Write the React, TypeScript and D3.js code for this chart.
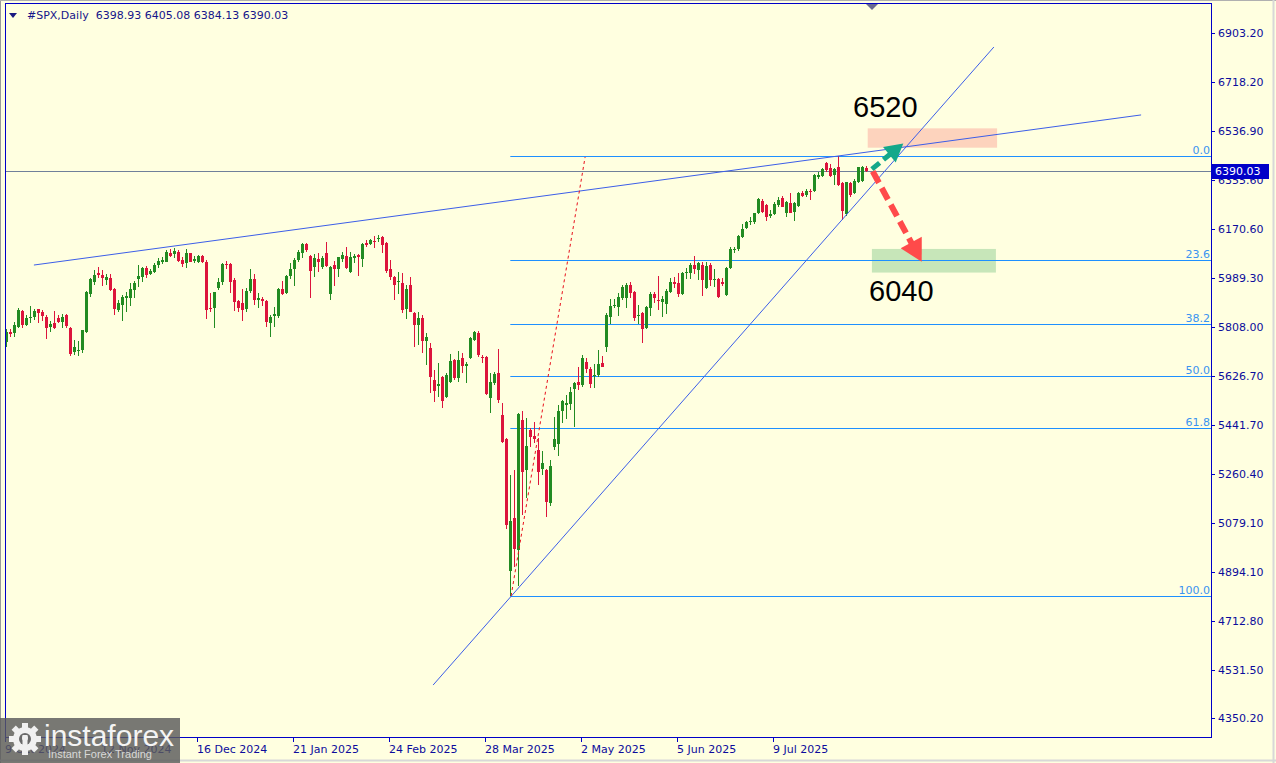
import React from "react";
import * as d3 from "d3";

// ---------- DATA ----------
const opens = [
  5750, 5788, 5786, 5809, 5867, 5815, 5840, 5846, 5873, 5862,
  5846, 5806, 5821, 5842, 5827, 5852, 5805, 5713, 5720, 5720,
  5788, 5930, 5976, 6007, 6001, 5982, 5991, 5949, 5871, 5889,
  5917, 5914, 5945, 5986, 5995, 6026, 6003, 6013, 6038, 6051,
  6051, 6082, 6078, 6088, 6057, 6044, 6082, 6053, 6048, 6073,
  6051, 5879, 5879, 5951, 5976, 6042, 6042, 5982, 5904, 5895,
  5874, 5943, 5985, 5908, 5912, 5904, 5823, 5850, 5848, 5949,
  5935, 5997, 6023, 6057, 6084, 6115, 6073, 6030, 6061, 6032,
  6083, 5929, 6039, 6022, 6061, 6072, 6013, 6063, 6075, 6059,
  6119, 6116, 6128, 6134, 6144, 6121, 6022, 5992, 5974, 5972,
  5874, 5964, 5861, 5815, 5842, 5755, 5728, 5610, 5589, 5622,
  5546, 5604, 5685, 5616, 5691, 5663, 5691, 5759, 5786, 5697,
  5697, 5544, 5600, 5637, 5480, 5390, 4900, 5096, 4977, 5461,
  5275, 5424, 5403, 5349, 5277, 5275, 5153, 5362, 5372, 5496,
  5518, 5519, 5575, 5604, 5591, 5676, 5652, 5625, 5629, 5672,
  5734, 5846, 5888, 5883, 5914, 5914, 5965, 5938, 5848, 5861,
  5802, 5877, 5930, 5908, 5902, 5893, 5939, 5974, 5972, 5929,
  6007, 6007, 6038, 6020, 6038, 5954, 6038, 5981, 5985, 5976,
  5927, 6026, 6093, 6097, 6141, 6177, 6198, 6200, 6231, 6278,
  6262, 6222, 6228, 6262, 6286, 6233, 6270, 6234, 6259, 6308,
  6299, 6315, 6315, 6367, 6371, 6419, 6398, 6373, 6404, 6342,
  6227, 6345, 6308, 6346, 6351, 6398.93,
];
const highs = [
  5800, 5799, 5825, 5877, 5871, 5852, 5886, 5874, 5874, 5871,
  5852, 5830, 5867, 5852, 5855, 5855, 5809, 5759, 5755, 5796,
  5941, 5991, 6020, 6030, 6020, 6003, 6003, 5951, 5908, 5926,
  5939, 5970, 5979, 6038, 6030, 6034, 6022, 6044, 6063, 6067,
  6094, 6098, 6100, 6094, 6069, 6098, 6082, 6073, 6075, 6075,
  6057, 5933, 5939, 5989, 6044, 6053, 6044, 5989, 5908, 5948,
  5951, 6022, 6003, 5935, 5920, 5908, 5852, 5883, 5951, 5979,
  6001, 6047, 6063, 6094, 6119, 6119, 6075, 6079, 6084, 6072,
  6123, 6035, 6053, 6069, 6085, 6104, 6085, 6079, 6079, 6119,
  6131, 6134, 6146, 6150, 6146, 6125, 6057, 5997, 6013, 6010,
  5964, 5995, 5864, 5864, 5852, 5784, 5749, 5647, 5672, 5625,
  5635, 5707, 5687, 5719, 5709, 5678, 5771, 5793, 5793, 5703,
  5699, 5635, 5641, 5724, 5523, 5393, 5256, 5275, 5486, 5496,
  5467, 5430, 5455, 5393, 5346, 5277, 5312, 5474, 5517, 5536,
  5554, 5583, 5604, 5660, 5703, 5691, 5657, 5670, 5722, 5699,
  5861, 5910, 5910, 5933, 5964, 5972, 5976, 5943, 5889, 5864,
  5886, 5939, 5939, 5997, 5923, 5948, 5989, 5992, 6007, 6013,
  6026, 6047, 6072, 6051, 6051, 6051, 6044, 6022, 5989, 5989,
  6032, 6104, 6106, 6150, 6191, 6203, 6216, 6233, 6286, 6283,
  6265, 6243, 6274, 6293, 6295, 6278, 6305, 6272, 6309, 6315,
  6320, 6320, 6377, 6383, 6398, 6423, 6414, 6398, 6444, 6346,
  6349, 6349, 6357, 6404, 6407, 6405.08,
];
const lows = [
  5734, 5771, 5771, 5802, 5805, 5811, 5821, 5833, 5821, 5830,
  5763, 5790, 5800, 5821, 5802, 5802, 5701, 5703, 5701, 5712,
  5784, 5920, 5964, 5989, 5961, 5964, 5941, 5852, 5862, 5830,
  5862, 5886, 5914, 5958, 5976, 5989, 6001, 6007, 6026, 6041,
  6048, 6069, 6063, 6051, 6030, 6028, 6048, 6044, 6044, 6044,
  5837, 5862, 5802, 5945, 5964, 6022, 5933, 5867, 5864, 5831,
  5864, 5933, 5889, 5877, 5887, 5806, 5771, 5806, 5842, 5927,
  5930, 5986, 5961, 6051, 6066, 6085, 5917, 5995, 6013, 6022,
  6032, 5908, 5960, 5995, 6048, 6022, 6010, 6044, 5998, 6032,
  6104, 6113, 6100, 6125, 6084, 6010, 5982, 5908, 5930, 5861,
  5836, 5862, 5734, 5740, 5712, 5666, 5563, 5529, 5548, 5505,
  5542, 5598, 5610, 5604, 5635, 5600, 5687, 5757, 5694, 5672,
  5554, 5488, 5591, 5526, 5374, 5055, 4806, 4915, 4841, 5107,
  5169, 5359, 5374, 5219, 5256, 5101, 5141, 5349, 5328, 5451,
  5464, 5498, 5434, 5573, 5585, 5635, 5579, 5579, 5622, 5657,
  5716, 5819, 5877, 5850, 5908, 5877, 5914, 5831, 5819, 5747,
  5799, 5848, 5895, 5871, 5846, 5856, 5935, 5951, 5920, 5927,
  5985, 5985, 6005, 5982, 5923, 5948, 5960, 5958, 5917, 5960,
  5924, 6022, 6082, 6092, 6138, 6172, 6187, 6191, 6227, 6231,
  6203, 6212, 6224, 6255, 6253, 6218, 6231, 6203, 6255, 6293,
  6293, 6280, 6311, 6358, 6367, 6386, 6367, 6336, 6332, 6206,
  6221, 6293, 6303, 6342, 6346, 6384.13,
];
const closes = [
  5788, 5781, 5815, 5871, 5815, 5842, 5846, 5867, 5861, 5850,
  5802, 5817, 5805, 5827, 5846, 5811, 5706, 5732, 5723, 5796,
  5939, 5985, 6001, 6001, 5989, 5995, 5945, 5874, 5895, 5918,
  5923, 5949, 5972, 5998, 6028, 6001, 6016, 6038, 6053, 6057,
  6088, 6073, 6090, 6053, 6042, 6082, 6051, 6061, 6073, 6048,
  5871, 5877, 5936, 5976, 6041, 6037, 5976, 5902, 5877, 5871,
  5941, 5985, 5908, 5915, 5905, 5827, 5846, 5856, 5948, 5930,
  5997, 6023, 6057, 6087, 6116, 6094, 6017, 6064, 6048, 6066,
  6035, 6031, 6024, 6067, 6075, 6028, 6069, 6072, 6069, 6116,
  6113, 6131, 6125, 6139, 6113, 6016, 5992, 5964, 5980, 5871,
  5949, 5864, 5815, 5842, 5756, 5771, 5622, 5570, 5595, 5533,
  5629, 5682, 5616, 5685, 5662, 5668, 5765, 5788, 5703, 5691,
  5558, 5604, 5632, 5536, 5380, 5070, 5086, 4980, 5482, 5269,
  5364, 5399, 5389, 5269, 5302, 5157, 5290, 5390, 5495, 5532,
  5523, 5565, 5600, 5591, 5692, 5651, 5595, 5629, 5670, 5660,
  5852, 5886, 5891, 5920, 5958, 5965, 5935, 5840, 5852, 5799,
  5883, 5930, 5914, 5904, 5910, 5943, 5975, 5967, 5930, 6007,
  6012, 6038, 6022, 6044, 5982, 6036, 5982, 5986, 5920, 5966,
  6028, 6097, 6099, 6146, 6172, 6200, 6202, 6231, 6284, 6234,
  6218, 6227, 6265, 6280, 6255, 6274, 6233, 6268, 6308, 6295,
  6314, 6313, 6373, 6373, 6396, 6392, 6371, 6396, 6336, 6241,
  6346, 6299, 6352, 6402, 6402, 6390.03,
];

const symbolTitle = "#SPX,Daily";
const lastBar = { open: 6398.93, high: 6405.08, low: 6384.13, close: 6390.03 };

const priceTicks = [6903.2, 6718.2, 6536.9, 6355.6, 6170.6, 5989.3, 5808.0, 5626.7, 5441.7, 5260.4, 5079.1, 4894.1, 4712.8, 4531.5, 4350.2];
const dateTickBars = [0, 24, 48, 72, 96, 120, 144, 168, 192];
const dateTickLabels = ["9 Oct 2024", "12 Nov 2024", "16 Dec 2024", "21 Jan 2025", "24 Feb 2025", "28 Mar 2025", "2 May 2025", "5 Jun 2025", "9 Jul 2025"];

// Fibonacci retracement (high / low and levels)
const fibHigh = 6444;
const fibLow = 4806;
const fibStartBar = 126;
const fibLevels = [0, 23.6, 38.2, 50.0, 61.8, 100.0];

// Drawn objects (bar index, price)
const wedgeUpper = [{ bar: 6.9, price: 6038 }, { bar: 283.7, price: 6597 }];
const wedgeLower = [{ bar: 106.7, price: 4474 }, { bar: 246.9, price: 6850 }];
const redDotted = [{ bar: 126.2, price: 4806 }, { bar: 144.7, price: 6440 }];
const pinkZone = { bar0: 215.35, bar1: 247.7, p0: 6475, p1: 6547 };
const greenZone = { bar0: 216.4, bar1: 247.4, p0: 6010, p1: 6098 };
const upArrow = { bar0: 216.4, p0: 6395, bar1: 224.25, p1: 6491 };
const downArrow = { bar0: 216.6, p0: 6387, bar1: 228.85, p1: 6050 };
const targetLabels = [
  { text: "6520", bar: 211.7, price: 6589 },
  { text: "6040", bar: 215.7, price: 5904 },
];

// ---------- LAYOUT ----------
const W = 1276;
const H = 763;
const plotLeft = 5;
const plotRight = 1211;
const plotTop = 3;
const plotBottom = 737;

const BG = "#ffffe0";
const AXIS = "#0000c8";
const AXIS_TEXT = "#0c0c9c";
const UP = "#228b22";
const DOWN = "#dc143c";
const FIB = "#1e90ff";
const TREND = "#3c5ee8";
const FONT = "'DejaVu Sans', Verdana, sans-serif";

function arrowParts(x1: number, y1: number, x2: number, y2: number, len: number, width: number) {
  const dx = x2 - x1, dy = y2 - y1;
  const L = Math.hypot(dx, dy);
  const ux = dx / L, uy = dy / L;
  const bx = x2 - ux * len, by = y2 - uy * len;
  const nx = -uy, ny = ux;
  const pts = [
    [x2, y2],
    [bx + nx * width / 2, by + ny * width / 2],
    [bx - nx * width / 2, by - ny * width / 2],
  ];
  return { bx: bx + ux * 2, by: by + uy * 2, pts: pts.map((p) => p.join(",")).join(" ") };
}

export default function App() {
  const n = closes.length;
  const x = d3.scaleLinear().domain([0, n - 1]).range([6.3, 6.3 + 4 * (n - 1)]);
  const y = d3.scaleLinear().domain([4350.2, 6903.2]).range([718.3, 32.7]);

  const candles = d3.range(n).map((i) => {
    const o = opens[i], h = highs[i], l = lows[i], c = closes[i];
    const cx = Math.round(x(i));
    const top = Math.round(y(Math.max(o, c)));
    const bot = Math.round(y(Math.min(o, c)));
    const color = c >= o ? UP : DOWN;
    return (
      <g key={i}>
        <rect x={cx} y={Math.round(y(h))} width={1} height={Math.max(1, Math.round(y(l)) - Math.round(y(h)))} fill={color} />
        <rect x={cx - 1} y={top} width={3} height={Math.max(1, bot - top)} fill={color} />
      </g>
    );
  });

  const fibY = (lvl: number) => y(fibHigh - (fibHigh - fibLow) * lvl / 100);
  const lastY = y(lastBar.close);

  const up = arrowParts(x(upArrow.bar0), y(upArrow.p0), x(upArrow.bar1), y(upArrow.p1), 18, 20);
  const dn = arrowParts(x(downArrow.bar0), y(downArrow.p0), x(downArrow.bar1), y(downArrow.p1), 22, 24);

  const fmt = d3.format(".2f");

  return (
    <svg width={W} height={H} style={{ position: "fixed", left: 0, top: 0, display: "block" }}>
      <rect x={0} y={0} width={W} height={H} fill={BG} />
      {/* window frame */}
      <line x1={0.5} y1={0} x2={0.5} y2={H} stroke="#9a9a9a" strokeWidth={1} />
      <line x1={0} y1={0.5} x2={W} y2={0.5} stroke="#b0b0b0" strokeWidth={1} />
      <line x1={W - 2.5} y1={0} x2={W - 2.5} y2={H} stroke="#d8d8d8" strokeWidth={2} />
      <line x1={0} y1={H - 2.5} x2={W} y2={H - 2.5} stroke="#d8d8d8" strokeWidth={2} />

      {/* zones */}
      <rect x={x(pinkZone.bar0)} y={y(pinkZone.p1)} width={x(pinkZone.bar1) - x(pinkZone.bar0)} height={y(pinkZone.p0) - y(pinkZone.p1)} fill="#fdd3bd" />
      <rect x={x(greenZone.bar0)} y={y(greenZone.p1)} width={x(greenZone.bar1) - x(greenZone.bar0)} height={y(greenZone.p0) - y(greenZone.p1)} fill="#c7e6b9" />

      {/* fib levels */}
      {fibLevels.map((lvl) => (
        <g key={lvl}>
          <line x1={x(fibStartBar)} x2={plotRight} y1={Math.round(fibY(lvl)) + 0.5} y2={Math.round(fibY(lvl)) + 0.5} stroke={FIB} strokeWidth={1} />
          <text x={plotRight - 1} y={Math.round(fibY(lvl)) - 2} textAnchor="end" fontFamily={FONT} fontSize={11} fill="#3a93f0">{lvl.toFixed(1)}</text>
        </g>
      ))}

      {/* last price line */}
      <line x1={plotLeft} x2={plotRight} y1={Math.round(lastY) + 0.5} y2={Math.round(lastY) + 0.5} stroke="#70809a" strokeWidth={1} />

      {/* candles */}
      <g shapeRendering="crispEdges">{candles}</g>

      {/* trend lines */}
      <line x1={x(wedgeUpper[0].bar)} y1={y(wedgeUpper[0].price)} x2={x(wedgeUpper[1].bar)} y2={y(wedgeUpper[1].price)} stroke={TREND} strokeWidth={1} />
      <line x1={x(wedgeLower[0].bar)} y1={y(wedgeLower[0].price)} x2={x(wedgeLower[1].bar)} y2={y(wedgeLower[1].price)} stroke={TREND} strokeWidth={1} />
      <line x1={x(redDotted[0].bar)} y1={y(redDotted[0].price)} x2={x(redDotted[1].bar)} y2={y(redDotted[1].price)} stroke="#e8101c" strokeWidth={1} strokeDasharray="3,3" />

      {/* arrows */}
      <line x1={x(upArrow.bar0)} y1={y(upArrow.p0)} x2={up.bx} y2={up.by} stroke="#14a88a" strokeWidth={5} strokeDasharray="10,5" />
      <polygon points={up.pts} fill="#14a88a" />
      <line x1={x(downArrow.bar0)} y1={y(downArrow.p0)} x2={dn.bx} y2={dn.by} stroke="#ff4a4a" strokeWidth={6} strokeDasharray="13,6" />
      <polygon points={dn.pts} fill="#ff4a4a" />

      {/* target labels */}
      {targetLabels.map((t) => (
        <text key={t.text} x={x(t.bar)} y={y(t.price)} fontFamily="'Liberation Sans', Arial, sans-serif" fontSize={29} fill="#000">{t.text}</text>
      ))}

      {/* plot frame */}
      <g shapeRendering="crispEdges">
        <line x1={plotLeft + 0.5} y1={plotTop} x2={plotLeft + 0.5} y2={plotBottom} stroke={AXIS} strokeWidth={1} />
        <line x1={plotLeft} y1={plotTop + 0.5} x2={plotRight} y2={plotTop + 0.5} stroke={AXIS} strokeWidth={1} />
        <line x1={plotRight + 0.5} y1={plotTop} x2={plotRight + 0.5} y2={plotBottom + 1} stroke={AXIS} strokeWidth={1} />
        <line x1={plotLeft} y1={plotBottom + 0.5} x2={plotRight + 1} y2={plotBottom + 0.5} stroke={AXIS} strokeWidth={1} />
      </g>

      {/* shift marker */}
      <polygon points="866,4 878,4 872,10" fill="#6a6a90" />

      {/* price axis */}
      {priceTicks.map((p) => (
        <g key={p}>
          <line x1={plotRight} x2={plotRight + 4} y1={Math.round(y(p)) + 0.5} y2={Math.round(y(p)) + 0.5} stroke={AXIS} strokeWidth={1} />
          <text x={1218} y={y(p) + 4} fontFamily={FONT} fontSize={11} fill={AXIS_TEXT}>{fmt(p)}</text>
        </g>
      ))}
      <rect x={1212} y={Math.round(lastY) - 7} width={57} height={15} fill="#0000c8" />
      <text x={1215} y={lastY + 4.5} fontFamily={FONT} fontSize={11} fill="#fff">{fmt(lastBar.close)}</text>

      {/* date axis */}
      {dateTickBars.map((b, k) => (
        <g key={b}>
          <line x1={Math.round(x(b)) - 0.5} x2={Math.round(x(b)) - 0.5} y1={plotBottom} y2={plotBottom + 5} stroke={AXIS} strokeWidth={1} />
          <text x={Math.round(x(b)) - 1} y={753} fontFamily={FONT} fontSize={11} fill={AXIS_TEXT}>{dateTickLabels[k]}</text>
        </g>
      ))}

      {/* header */}
      <polygon points="9,13 17,13 13,18" fill="#1a1a80" />
      <text x={27} y={19} fontFamily={FONT} fontSize={11} fill="#15158a" style={{ whiteSpace: "pre" }}>
        {`${symbolTitle}  ${fmt(lastBar.open)} ${fmt(lastBar.high)} ${fmt(lastBar.low)} ${fmt(lastBar.close)}`}
      </text>

      {/* watermark logo */}
      <g>
        <rect x={0} y={718} width={180} height={45} fill="#5a5a5a" opacity={0.82} />
        <g transform="translate(25,739)" fill="#f0f0f0">
          {d3.range(8).map((k) => (
            <rect key={k} x={-3} y={-16} width={6} height={7} transform={`rotate(${k * 45})`} />
          ))}
          <circle r={12} />
          <circle r={6} fill="#6a6a6a" />
          <rect x={-2.5} y={-4} width={5} height={17} fill="#f0f0f0" />
          <circle cy={-1} r={3} fill="#f0f0f0" />
        </g>
        <text x={44} y={746} fontFamily="'Liberation Sans', Arial, sans-serif" fontSize={30} fill="#f4f4f4">instaforex</text>
        <text x={48} y={758} fontFamily="'Liberation Sans', Arial, sans-serif" fontSize={11} fill="#d8d8d8">Instant Forex Trading</text>
      </g>
    </svg>
  );
}
